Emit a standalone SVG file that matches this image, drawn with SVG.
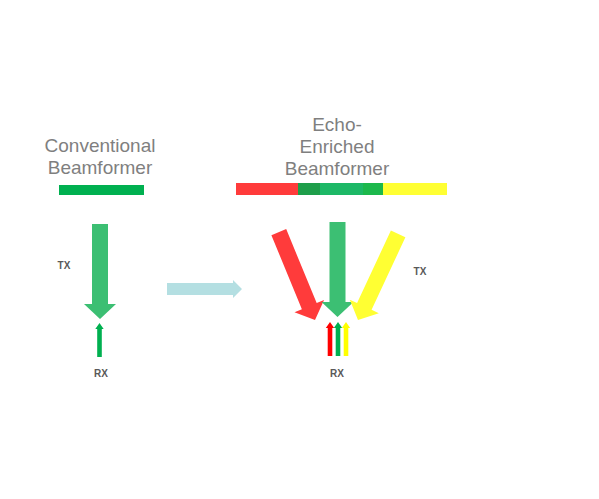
<svg xmlns="http://www.w3.org/2000/svg" width="599" height="499" viewBox="0 0 599 499">
<style>
.title{font-family:"Liberation Sans",Arial,sans-serif;font-size:19px;fill:#7F7F7F;text-anchor:middle}
.lbl{font-family:"Liberation Sans","Noto Sans",sans-serif;font-size:10px;font-weight:bold;fill:#595959;text-anchor:middle}
</style>
<defs>
<polygon id="bigDown" points="-8,-95 8,-95 8,-15 16,-15 0,0 -16,-15 -8,-15"/>
<polygon id="smallUp" points="-2.3,34 2.3,34 2.3,6 4.2,6 0,0 -4.2,6 -2.3,6"/>
</defs>
<rect width="599" height="499" fill="#FFFFFF"/>
<g id="conventional">
<text class="title" x="100" y="152">Conventional</text>
<text class="title" x="100" y="174">Beamformer</text>
<rect x="59" y="185" width="85" height="10" fill="#00B050"/>
</g>
<g id="echo-enriched">
<text class="title" x="337" y="131">Echo-</text>
<text class="title" x="337" y="153">Enriched</text>
<text class="title" x="337" y="175">Beamformer</text>
<rect x="236" y="183" width="62" height="12" fill="#FF3B3B"/>
<rect x="298" y="183" width="22" height="12" fill="#1E9E4A"/>
<rect x="320" y="183" width="43" height="12" fill="#1DB866"/>
<rect x="363" y="183" width="20" height="12" fill="#1CB84C"/>
<rect x="383" y="183" width="64" height="12" fill="#FFFF33"/>
</g>
<g id="left-tx">
<use href="#bigDown" transform="translate(100,319)" fill="#3CBF73"/>
<text class="lbl" x="64" y="269">TX</text>
</g>
<g id="left-rx">
<use href="#smallUp" transform="translate(99.5,323)" fill="#00B050"/>
<text class="lbl" x="101" y="377">RX</text>
</g>
<g id="right-tx">
<use href="#bigDown" transform="translate(315,320) rotate(-22.4)" fill="#FF3B3B"/>
<use href="#bigDown" transform="translate(337.5,317)" fill="#3CBF73"/>
<use href="#bigDown" transform="translate(358,320) rotate(25)" fill="#FFFF33"/>
<text class="lbl" x="420" y="275">TX</text>
</g>
<g id="right-rx">
<use href="#smallUp" transform="translate(330,322)" fill="#FF0000"/>
<use href="#smallUp" transform="translate(338,322)" fill="#00B050"/>
<use href="#smallUp" transform="translate(346,322)" fill="#FFFF00"/>
<text class="lbl" x="337" y="377">RX</text>
</g>
<g id="connectors">
<polygon points="167,283 233,283 233,280 242,289 233,298 233,295 167,295" fill="#B4DFE2"/>
</g>
</svg>
